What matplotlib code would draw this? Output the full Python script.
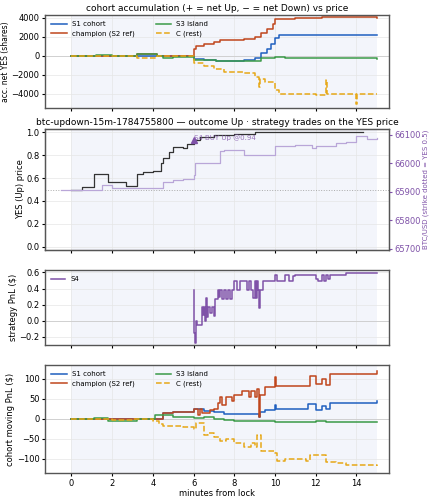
import matplotlib
matplotlib.use("Agg")
import matplotlib.pyplot as plt

# ---- data ----
s1_t = [0, 6.0, 6.5, 7.1, 8.5, 9.0, 9.3, 9.6, 9.8, 10.0, 10.2, 15.0]
s1_v = [0, -300, -400, -500, -400, -200, 300, 700, 1200, 1900, 2200, 2200]
ch_t = [0, 3.2, 4.2, 6.0, 6.1, 6.5, 7.0, 7.3, 8.5, 9.0, 9.3, 9.6, 9.9, 10.0, 11.0, 12.3, 15.0]
ch_v = [0, 200, 0, 700, 1000, 1200, 1500, 1700, 1800, 2000, 2400, 2800, 3400, 3900, 4000, 4050, 4000]
s3_t = [0, 1.2, 2.0, 3.2, 4.2, 4.5, 5.0, 6.0, 7.1, 9.3, 10.0, 10.5, 12.5, 15.0]
s3_v = [0, 100, 0, 200, 0, -200, -100, -400, -500, -200, -150, -200, -250, -300]
c_t = [0, 3.2, 4.2, 6.0, 6.5, 7.0, 7.5, 8.5, 9.0, 9.2, 9.25, 9.5, 10.0, 10.2, 12.0, 12.5, 12.55, 14.0, 14.05, 15.0]
c_v = [0, -200, 0, -800, -1100, -1400, -1700, -1800, -2200, -3300, -2400, -2800, -3600, -4000, -4100, -2600, -4000, -5100, -4000, -4000]

yes_t = [0, 0.5, 1.1, 1.8, 2.7, 3.2, 3.5, 4.0, 4.4, 4.5, 4.8, 5.0, 5.5, 5.7, 6.0, 6.3, 7.0, 8.0, 9.0, 14.3]
yes_v = [0.50, 0.52, 0.64, 0.57, 0.53, 0.64, 0.65, 0.66, 0.73, 0.78, 0.83, 0.87, 0.86, 0.90, 0.93, 0.96, 0.98, 0.99, 1.0, 1.0]
btc_t = [-0.5, 1.5, 2.0, 4.5, 5.0, 5.5, 6.0, 6.05, 7.3, 7.5, 8.5, 10.0, 11.0, 11.8, 12.0, 13.0, 13.5, 14.0, 14.5, 15.0]
btc_v = [65908, 65923, 65913, 65936, 65940, 65945, 65960, 66000, 66043, 66045, 66030, 66060, 66065, 66052, 66060, 66072, 66076, 66096, 66085, 66090]

s4_t = [6.0, 6.03, 6.07, 6.1, 6.15, 6.3, 6.4, 6.45, 6.5, 6.55, 6.6, 6.65, 6.7, 6.8, 6.9, 7.0, 7.05, 7.2, 7.25, 7.3,
        7.4, 7.5, 7.6, 7.7, 7.8, 7.9, 8.0, 8.15, 8.3, 8.6, 8.7, 8.8, 8.9, 9.0, 9.05, 9.1, 9.15, 9.2, 9.25, 9.4,
        10.0, 10.1, 10.5, 10.7, 10.9, 11.0, 12.0, 12.1, 12.3, 12.4, 12.5, 12.6, 12.7, 13.5, 15.0]
s4_v = [0.38, -0.15, -0.27, 0.0, -0.05, -0.05, 0.17, 0.07, 0.17, 0.0, 0.28, 0.05, 0.17, 0.1, 0.17, 0.06, 0.27, 0.38, 0.3, 0.38,
        0.27, 0.38, 0.27, 0.38, 0.27, 0.38, 0.49, 0.38, 0.49, 0.38, 0.49, 0.38, 0.28, 0.49, 0.28, 0.49, 0.38, 0.16, 0.38, 0.49,
        0.57, 0.49, 0.57, 0.49, 0.55, 0.57, 0.52, 0.49, 0.57, 0.49, 0.57, 0.52, 0.57, 0.59, 0.59]

p1_t = [0, 4.5, 5.0, 6.0, 6.5, 7.0, 7.5, 9.2, 9.25, 9.5, 10.0, 10.05, 11.6, 12.0, 12.3, 12.5, 12.7, 15.0]
p1_v = [0, 15, 18, 25, 20, 18, 13, 5, 18, 22, 35, 25, 38, 22, 32, 25, 40, 44]
p2_t = [0, 4.5, 5.0, 6.0, 6.2, 6.3, 6.4, 6.8, 7.0, 7.2, 7.3, 7.4, 7.6, 7.9, 8.0, 8.4, 8.7, 8.8, 9.0, 9.1, 9.2, 9.25, 9.5,
        10.0, 10.05, 11.7, 12.0, 12.3, 12.5, 12.7, 15.0]
p2_v = [0, 15, 17, 25, 10, 25, 15, 22, 25, 40, 55, 35, 55, 45, 60, 70, 55, 70, 55, 75, 5, 60, 80,
        105, 82, 108, 88, 100, 85, 113, 120]
p3_t = [0, 1.1, 1.8, 3.2, 4.1, 5.0, 6.0, 6.5, 7.0, 7.5, 8.0, 10.0, 12.0, 12.5, 15.0]
p3_v = [0, 3, -5, 0, 10, 5, 3, 5, 0, -3, -5, -7, -5, -7, -7]
p4_t = [0, 2.0, 3.0, 4.0, 4.3, 4.5, 5.5, 6.0, 6.1, 6.5, 6.7, 7.0, 7.3, 7.6, 8.0, 8.5, 8.8, 9.0, 9.1, 9.3,
        10.0, 10.1, 10.5, 11.5, 11.7, 12.5, 13.0, 13.5, 15.0]
p4_v = [0, -3, 0, -5, -12, -17, -20, -25, -10, -40, -35, -45, -55, -50, -60, -70, -60, -70, -40, -80,
        -85, -105, -100, -105, -90, -108, -110, -115, -118]

# ---- style ----
BLUE, RED, GREEN, ORANGE = "#1f5fbf", "#c0461c", "#3a9a48", "#e6a817"
PURPLE, LAV = "#7f52a8", "#b9a6d8"
plt.rcParams.update({"font.size": 6, "axes.edgecolor": "#555555"})

fig = plt.figure(figsize=(4.29, 5.0), dpi=100)
def mkax(top, bot):
    return fig.add_axes([45/429, 1 - bot/500, (389-45)/429, (bot-top)/500])
ax1 = mkax(15, 108); ax2 = mkax(129, 250); ax3 = mkax(270, 345); ax4 = mkax(365, 473)

for ax in (ax1, ax2, ax3, ax4):
    ax.set_facecolor("white")
    ax.axvspan(0, 15, color="#eef2fa", alpha=0.7, zorder=0, lw=0)
    ax.set_xlim(-1.3, 15.6)
    ax.set_xticks(range(0, 15, 2))
    ax.grid(True, color="#e6e6e6", lw=0.5)
    ax.tick_params(labelsize=6, length=2.5, pad=1.5)
    for sp in ax.spines.values():
        sp.set_linewidth(1.0)
for ax in (ax1, ax2, ax3):
    ax.tick_params(labelbottom=False)

LP = 1
# panel 1
ax1.axhline(0, color="#cccccc", lw=0.6)
ax1.step(s1_t, s1_v, where="post", color=BLUE, lw=1.1, label="S1 cohort")
ax1.step(ch_t, ch_v, where="post", color=RED, lw=1.1, label="champion (S2 ref)")
ax1.step(s3_t, s3_v, where="post", color=GREEN, lw=1.1, label="S3 island")
ax1.step(c_t, c_v, where="post", color=ORANGE, lw=1.1, ls="--", label="C (rest)")
ax1.set_ylim(-5500, 4300)
ax1.set_yticks([-4000, -2000, 0, 2000, 4000])
ax1.set_ylabel("acc. net YES (shares)", fontsize=5.5, labelpad=LP)
ax1.set_title("cohort accumulation (+ = net Up, − = net Down) vs price", fontsize=6.5, pad=3)
ax1.legend(loc="upper left", ncol=2, fontsize=5, frameon=False, handlelength=2.2, columnspacing=3)

# panel 2
ax2.axhline(0.5, color="#aaaaaa", lw=0.7, ls=":")
ax2.step(yes_t, yes_v, where="post", color="#333333", lw=0.9)
ax2.plot([6.0], [0.93], marker="^", color=PURPLE, ms=5)
ax2.text(6.0, 0.935, "S4 BUY Up @0.94", color=PURPLE, fontsize=5, alpha=0.8)
ax2.set_ylim(-0.03, 1.03)
ax2.set_yticks([0.0, 0.2, 0.4, 0.6, 0.8, 1.0])
ax2.set_ylabel("YES (Up) price", fontsize=6, labelpad=LP)
ax2.set_title("btc-updown-15m-1784755800 — outcome Up · strategy trades on the YES price", fontsize=6.5, pad=3)
axr = ax2.twinx()
axr.step(btc_t, btc_v, where="post", color=LAV, lw=0.9)
axr.set_ylim(65708 - 400*0.03, 65708 + 400*1.03)
axr.set_yticks([65700, 65800, 65900, 66000, 66100])
axr.tick_params(colors=PURPLE, labelsize=6, length=2.5, pad=1.5)
axr.set_ylabel("BTC/USD (strike dotted = YES 0.5)", color=PURPLE, fontsize=5, labelpad=LP)

# panel 3
ax3.axhline(0, color="#cccccc", lw=0.6)
ax3.step(s4_t, s4_v, where="post", color=PURPLE, lw=1.1, label="S4")
ax3.set_ylim(-0.3, 0.63)
ax3.set_yticks([-0.2, 0.0, 0.2, 0.4, 0.6])
ax3.set_ylabel("strategy PnL ($)", fontsize=6, labelpad=LP)
ax3.legend(loc="upper left", fontsize=5, frameon=False)

# panel 4
ax4.axhline(0, color="#cccccc", lw=0.6)
ax4.step(p1_t, p1_v, where="post", color=BLUE, lw=1.1, label="S1 cohort")
ax4.step(p2_t, p2_v, where="post", color=RED, lw=1.1, label="champion (S2 ref)")
ax4.step(p3_t, p3_v, where="post", color=GREEN, lw=1.1, label="S3 island")
ax4.step(p4_t, p4_v, where="post", color=ORANGE, lw=1.1, ls="--", label="C (rest)")
ax4.set_ylim(-135, 135)
ax4.set_yticks([-100, -50, 0, 50, 100])
ax4.set_ylabel("cohort moving PnL ($)", fontsize=6, labelpad=LP)
ax4.set_xlabel("minutes from lock", fontsize=6, labelpad=1)
ax4.legend(loc="upper left", ncol=2, fontsize=5, frameon=False, handlelength=2.2, columnspacing=3)

fig.savefig("out.png", dpi=100)
